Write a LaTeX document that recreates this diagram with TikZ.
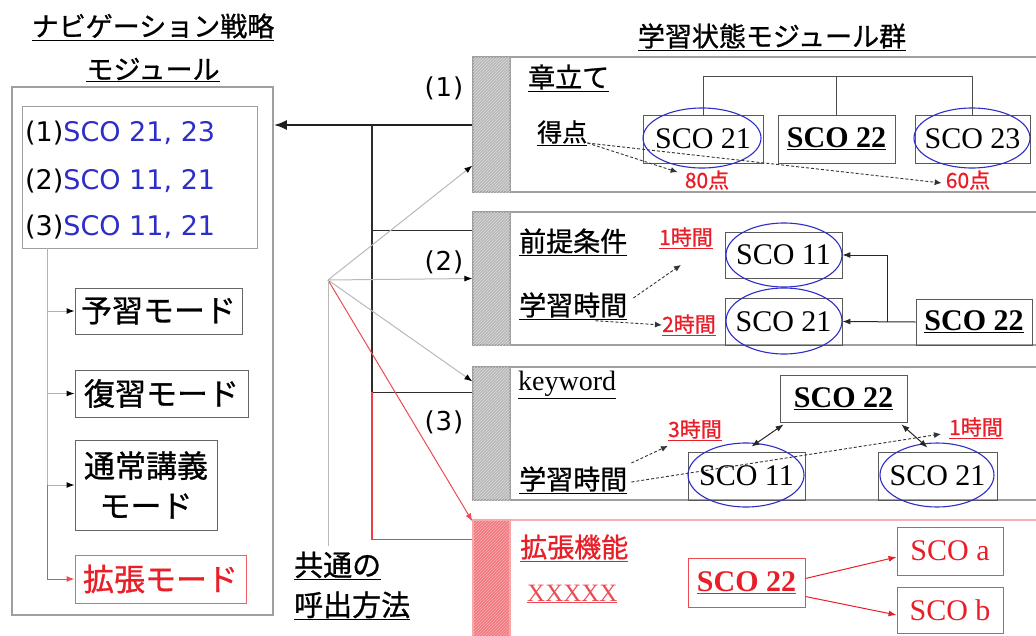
\documentclass[tikz,border=0pt]{standalone}
\usepackage{fontspec}
\setmainfont{Liberation Serif}
\newfontfamily\jp[FakeBold=0.9]{Noto Sans CJK JP}
\newfontfamily\dv{DejaVu Sans}
\usetikzlibrary{arrows.meta,patterns,calc}
\definecolor{navblue}{RGB}{45,45,200}
\definecolor{hred}{RGB}{232,30,40}
\begin{document}
\begin{tikzpicture}[x=1pt,y=-1pt,
  jpt/.style={font=\jp\fontsize{27}{33}\selectfont, inner sep=0pt},
  jpbig/.style={font=\jp\fontsize{31}{40}\selectfont, inner sep=0pt},
  listtxt/.style={font=\dv\fontsize{27}{30}\selectfont, inner sep=0pt, anchor=west},
  numlab/.style={font=\dv\fontsize{26}{28}\selectfont, inner sep=0pt},
  modebox/.style={draw=gray!80!black, line width=1pt, jpbig},
  scobox/.style={draw=gray!70!black, line width=0.8pt, font=\fontsize{30}{32}\selectfont, inner sep=0pt},
  redbox/.style={draw=hred!80, line width=0.9pt, text=hred, font=\fontsize{30}{32}\selectfont, inner sep=0pt},
  modframe/.style={draw=gray!75, line width=1.6pt},
  bar/.style={draw=gray!75, line width=1.2pt, fill=gray!55, postaction={pattern=north east lines, pattern color=gray!30}},
  redbar/.style={draw=hred!40, line width=1.2pt, fill=hred!60, postaction={pattern=north east lines, pattern color=hred!35}},
  ell/.style={draw=navblue, line width=1.1pt},
  redlab/.style={text=hred, font=\jp\fontsize{21}{24}\selectfont, inner sep=0pt},
  dasharr/.style={densely dashed, gray!40!black, line width=0.9pt, -{Latex[length=7pt,width=6pt]}},
  tip/.style={-{Latex[length=8pt,width=6pt]}},
  tipk/.style={-{Latex[length=8pt,width=6pt,color=black]}},
  conn/.style={line width=1pt, gray!30!black},
  spine/.style={line width=1.6pt, gray!35!black},
  fanline/.style={line width=1pt, gray!55},
  tree/.style={line width=0.8pt, gray!60!black}
]
\useasboundingbox (0,0) rectangle (1036,635);
\clip (0,0) rectangle (1036,635);

% ---------------- left module ----------------
\node[jpt] (t1) at (153,27) {\underline{ナビゲーション戦略}};
\node[jpt] (t2) at (153,70) {\underline{モジュール}};
\node[draw=gray!75, line width=1.5pt, minimum width=261pt, minimum height=528pt] (navbox) at (142.5,351) {};
\node[draw=gray!75, line width=1pt, minimum width=235pt, minimum height=142pt] (list) at (139.5,177) {};
\node[listtxt] (l1) at (25,133) {(1)\textcolor{navblue}{SCO 21, 23}};
\node[listtxt] (l2) at (25,181) {(2)\textcolor{navblue}{SCO 11, 21}};
\node[listtxt] (l3) at (25,227) {(3)\textcolor{navblue}{SCO 11, 21}};

\node[modebox, minimum width=167pt, minimum height=46pt] (yoshu) at (158.5,311) {予習モード};
\node[modebox, minimum width=173pt, minimum height=47pt] (fukushu) at (161.5,393.5) {復習モード};
\node[modebox, minimum width=142pt, minimum height=90pt, align=center] (tsujo) at (146,485) {通常講義\\モード};
\node[modebox, draw=hred!70, text=hred, minimum width=171pt, minimum height=48pt] (kakucho) at (160.5,579) {拡張モード};

\coordinate (lsp) at (47,248);
\draw[conn, gray!60, tipk] (lsp) |- (yoshu.west);
\draw[conn, gray!60, tipk] (lsp) |- (fukushu.west);
\draw[conn, gray!60, tipk] (lsp) |- (tsujo.west);
\draw[conn, hred!80, tip] (lsp |- tsujo.west) |- (kakucho.west);

% ---------------- right modules ----------------
\node[jpt] (t3) at (772,37) {\underline{学習状態モジュール群}};

\node[modframe, minimum width=530pt, minimum height=135pt] (m1) at (775,124.5) {};
\node[bar, minimum width=37pt, minimum height=135pt] (b1) at (491.5,124.5) {};
\node[modframe, minimum width=530pt, minimum height=133pt] (m2) at (775,278.5) {};
\node[bar, minimum width=37pt, minimum height=133pt] (b2) at (491.5,278.5) {};
\node[modframe, minimum width=530pt, minimum height=133pt] (m3) at (775,433.5) {};
\node[bar, minimum width=37pt, minimum height=133pt] (b3) at (491.5,433.5) {};
\node[modframe, draw=hred!35, minimum width=530pt, minimum height=125pt] (m4) at (775,582.5) {};
\node[redbar, minimum width=37pt, minimum height=125pt] (b4) at (491.5,582.5) {};

\node[numlab] (n1) at (444,88) {(\kern1pt1\kern1pt)};
\node[numlab] (n2) at (444,262) {(\kern1pt2\kern1pt)};
\node[numlab] (n3) at (444,422) {(\kern1pt3\kern1pt)};

% module 1
\node[jpt, anchor=west] (shou) at (528,78) {\underline{章立て}};
\node[jpt, font=\jp\fontsize{25}{30}\selectfont, anchor=west] (tok) at (537,133) {\underline{得点}};
\node[scobox, minimum width=120pt, minimum height=48pt] (s21a) at (703,139) {SCO 21};
\node[scobox, minimum width=117pt, minimum height=48pt] (s22a) at (836.5,139) {\underline{\textbf{SCO 22}}};
\node[scobox, minimum width=115pt, minimum height=48pt] (s23a) at (972.5,139) {SCO 23};
\draw[ell] (702,138) ellipse [x radius=59pt, y radius=30pt];
\draw[ell] (972,138) ellipse [x radius=58pt, y radius=30pt];
\draw[tree] (s21a.north) |- (s23a.north |- 0,76) -- (s23a.north);
\draw[tree] (s22a.north) -- (s22a.north |- 0,76);
\node[redlab] (p80) at (707,180) {80点};
\node[redlab] (p60) at (968,180) {60点};
\draw[dasharr] ([yshift=-10pt]tok.east) -- ([xshift=-7pt,yshift=-2pt]p80.north west);
\draw[dasharr] ([yshift=-10pt]tok.east) -- ([xshift=-4pt,yshift=-3pt]p60.west);

% module 2
\node[jpt, anchor=west] (zen) at (519,242) {\underline{前提条件}};
\node[jpt, anchor=west] (g2) at (519,306) {\underline{学習時間}};
\node[redlab] (h1b) at (686,238) {\underline{1時間}};
\node[redlab] (h2b) at (689,325) {\underline{2時間}};
\node[scobox, minimum width=117pt, minimum height=46pt] (s11b) at (783.5,255) {SCO 11};
\node[scobox, minimum width=117pt, minimum height=47pt] (s21b) at (783.5,321.5) {SCO 21};
\node[scobox, minimum width=116pt, minimum height=46pt] (s22b) at (974,322) {\underline{\textbf{SCO 22}}};
\draw[ell] (784,255) ellipse [x radius=58pt, y radius=32pt];
\draw[ell] (784,321) ellipse [x radius=58pt, y radius=33pt];
\coordinate (bend) at (887,0);
\draw[conn, tip] (s22b.west) -- (s21b.east);
\draw[conn, tip] (s22b.west -| bend) |- (s11b.east);
\draw[dasharr] ([xshift=6pt,yshift=8pt]g2.east) -- ([xshift=22pt,yshift=-16pt]h1b.south west);
\draw[dasharr] ([xshift=-32pt,yshift=-1pt]g2.south east) -- (h2b.west);

% module 3
\node[jpt, font=\fontsize{28}{30}\selectfont, anchor=west] (kw) at (518,385) {\underline{keyword}};
\node[jpt, anchor=west] (g3) at (519,480) {\underline{学習時間}};
\node[scobox, minimum width=127pt, minimum height=47pt] (s22c) at (843.5,398.5) {\underline{\textbf{SCO 22}}};
\node[scobox, minimum width=117pt, minimum height=48pt] (s11c) at (746.5,476) {SCO 11};
\node[scobox, minimum width=119pt, minimum height=48pt] (s21c) at (937.5,476) {SCO 21};
\draw[ell] (746,475) ellipse [x radius=58pt, y radius=32pt];
\draw[ell] (937,475) ellipse [x radius=57pt, y radius=32pt];
\node[redlab] (h3c) at (695,430) {\underline{3時間}};
\node[redlab] (h1c) at (976,428) {\underline{1時間}};
\draw[conn, {Latex[length=8pt,width=6pt]}-{Latex[length=8pt,width=6pt]}] ([xshift=5pt,yshift=5pt]s11c.north) -- ([xshift=4pt,yshift=-2pt]s22c.south west);
\draw[conn, {Latex[length=8pt,width=6pt]}-{Latex[length=8pt,width=6pt]}] ([xshift=-6pt,yshift=-2pt]s22c.south east) -- ([xshift=-10pt,yshift=4pt]s21c.north);
\draw[dasharr] ([xshift=4pt,yshift=17pt]g3.east) -- ([xshift=0pt,yshift=-5pt]h3c.south west);
\draw[dasharr] ([xshift=4pt,yshift=-2pt]g3.east) -- ([xshift=-8pt,yshift=-6pt]h1c.west);

% module 4
\node[jpt, text=hred, anchor=west] (kin) at (520,548) {\underline{拡張機能}};
\node[jpt, text=hred!80, font=\fontsize{25}{28}\selectfont, anchor=west] (xx) at (527,594) {\underline{XXXXX}};
\node[redbox, minimum width=117pt, minimum height=49pt] (s22d) at (746.5,582.5) {\underline{\textbf{SCO 22}}};
\node[redbox, minimum width=106pt, minimum height=48pt] (sa) at (950,551) {SCO a};
\node[redbox, minimum width=106pt, minimum height=46pt] (sb) at (950,610) {SCO b};
\draw[conn, hred, tip] ([yshift=4pt]s22d.east) -- ([yshift=-6pt]sa.west);
\draw[conn, hred, tip] ([yshift=-14pt]s22d.east) -- ([yshift=-5pt]sb.west);

% ---------------- connectors between modules ----------------
\draw[line width=2.4pt, gray!25!black, -{Latex[length=13pt,width=10pt]}] (b1.west |- 0,125) -- (navbox.east |- 0,125);
\coordinate (sp) at (372,125);
\draw[spine] (sp) |- ([yshift=-19pt]b2.north west);
\draw[spine] (sp) |- ([yshift=-26pt]b3.north west);
\draw[spine, hred!85] ([yshift=-26pt]b3.north west -| sp) |- ([yshift=-20pt]b4.north west);

\node[jpt, font=\jp\fontsize{29}{40}\selectfont, align=left, anchor=west] (common) at (294,586) {\underline{共通の}\\\underline{呼出方法}};
\coordinate (fan) at (328,280);
\draw[fanline, tipk] (fan) -- ([yshift=27pt]b1.south west);
\draw[fanline, tipk] (fan) -- (b2.west);
\draw[fanline, tipk] (fan) -- ([yshift=-15pt]b3.north west);
\draw[fanline, hred!80, tip] (fan) -- ([yshift=-2pt]b4.north west);
\draw[fanline] (fan) -- ([yshift=6pt]fan |- common.north);
\end{tikzpicture}
\end{document}
